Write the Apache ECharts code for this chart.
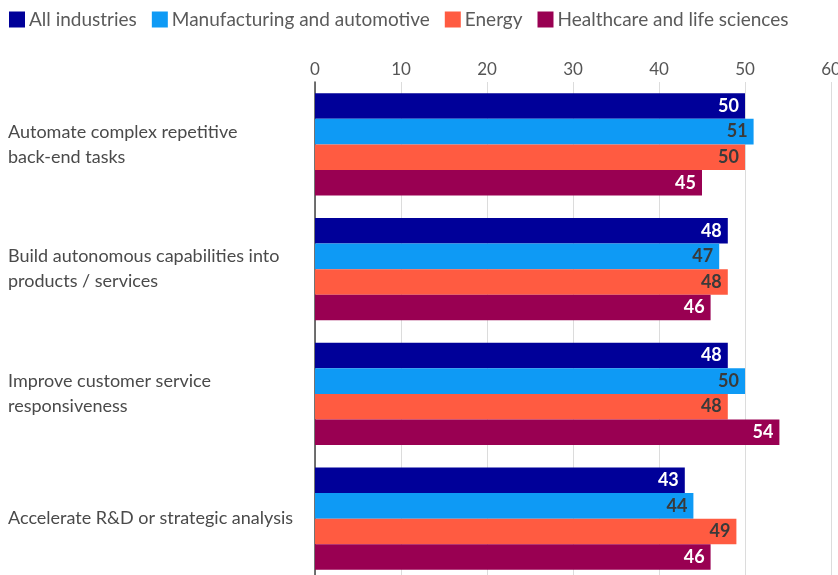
<!DOCTYPE html>
<html>
<head>
<meta charset="utf-8">
<script src="https://cdn.jsdelivr.net/npm/echarts@6/dist/echarts.min.js"></script>
<style>
  html, body { margin: 0; padding: 0; background: #fff; }
  #chart { width: 838px; height: 575px; }
</style>
</head>
<body>
<div id="chart"></div>
<script>
// Use-case categories (top to bottom)
const categories = [
  'Automate complex repetitive\nback-end tasks',
  'Build autonomous capabilities into\nproducts / services',
  'Improve customer service\nresponsiveness',
  'Accelerate R&D or strategic analysis'
];

// Share of respondents (%) by industry
const allIndustries = [50, 48, 48, 43];
const manufacturing = [51, 47, 50, 44];
const energy = [50, 48, 48, 49];
const healthcare = [45, 46, 54, 46];

const seriesNames = [
  'All industries',
  'Manufacturing and automotive',
  'Energy',
  'Healthcare and life sciences'
];
const seriesColors = ['#000099', '#0e9af5', '#ff5b41', '#990052'];
const labelColors = ['#ffffff', '#3a3a3a', '#3a3a3a', '#ffffff'];
const seriesData = [allIndustries, manufacturing, energy, healthcare];

const FONT = 'Lato';

const chart = echarts.init(document.getElementById('chart'));
chart.setOption({
  animation: false,
  textStyle: { fontFamily: FONT },
  legend: {
    top: 5,
    left: 4,
    itemWidth: 16,
    itemHeight: 16,
    itemGap: 15,
    icon: 'rect',
    textStyle: { fontFamily: FONT, fontSize: 19, color: '#5a5a5a', padding: [0, 0, 0, -1] },
    data: seriesNames
  },
  grid: { left: 315, right: 7, top: 82, bottom: -6, outerBoundsMode: 'none' },
  xAxis: {
    type: 'value',
    position: 'top',
    min: 0,
    max: 60,
    interval: 10,
    axisLine: { show: false },
    axisTick: { show: false },
    axisLabel: { fontFamily: FONT, fontSize: 17, color: '#555', margin: 4 },
    splitLine: { lineStyle: { color: '#dcdcdc', width: 1 } }
  },
  yAxis: {
    type: 'category',
    inverse: true,
    data: categories,
    axisLine: { show: true, lineStyle: { color: '#444', width: 1.5 } },
    axisTick: { show: false },
    axisLabel: {
      fontFamily: FONT,
      fontSize: 18,
      color: '#4a4a4a',
      align: 'left',
      margin: 307,
      lineHeight: 25
    }
  },
  series: seriesData.map((d, i) => ({
    name: seriesNames[i],
    type: 'bar',
    data: d,
    barGap: '0%',
    barCategoryGap: '18%',
    itemStyle: { color: seriesColors[i] },
    label: {
      show: true,
      position: 'insideRight',
      distance: 6,
      fontFamily: FONT,
      fontSize: 18,
      fontWeight: 'bold',
      color: labelColors[i]
    }
  }))
});
</script>
</body>
</html>
